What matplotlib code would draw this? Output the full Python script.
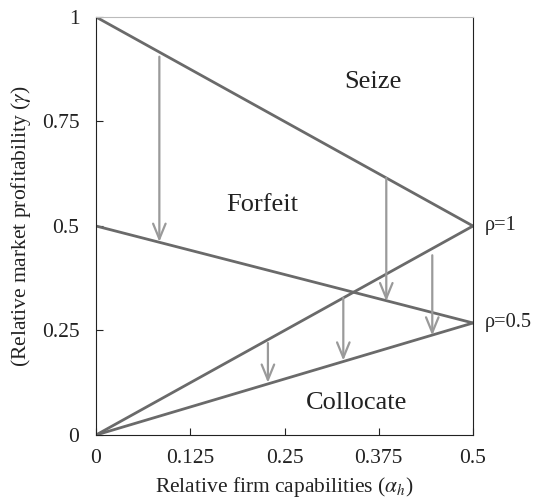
import numpy as np
import matplotlib.pyplot as plt

plt.rcParams['font.family'] = ['Liberation Serif', 'DejaVu Serif']
plt.rcParams['mathtext.fontset'] = 'stix'

# boundary lines: (x0, y0) -> (x1, y1)
line_x = [[0, 0.5], [0, 0.5], [0, 0.5], [0, 0.5]]
line_y = [[1, 0.5], [0.5, 0.268], [0, 0.5], [0, 0.268]]

# arrows: x position, start y, end y
arrow_x = [0.084, 0.385, 0.446, 0.328, 0.228]
arrow_y0 = [0.905, 0.615, 0.43, 0.328, 0.22]
arrow_y1 = [0.462, 0.32, 0.238, 0.178, 0.125]

regions = ['Seize', 'Forfeit', 'Collocate']
region_x = [0.367, 0.22, 0.346]
region_y = [0.845, 0.55, 0.077]

rho_labels = ['ρ=1', 'ρ=0.5']
rho_y = [0.5, 0.268]

xticks = [0, 0.125, 0.25, 0.375, 0.5]
yticks = [0, 0.25, 0.5, 0.75, 1]

fig = plt.figure(figsize=(5.37, 5.03), dpi=100)
ax = fig.add_axes([0.1788, 0.1352, 0.702, 0.831])

for xs, ys in zip(line_x, line_y):
    ax.plot(xs, ys, color='#6a6a6a', lw=2.0, solid_capstyle='round')

for x, y0, y1 in zip(arrow_x, arrow_y0, arrow_y1):
    ax.annotate('', xy=(x, y1), xytext=(x, y0),
                arrowprops=dict(arrowstyle='->,head_length=1.1,head_width=0.45',
                                color='#9a9a9a', lw=1.6, shrinkA=0, shrinkB=0))

for t, x, y in zip(regions, region_x, region_y):
    ax.text(x, y, t, fontsize=19, ha='center', va='center', color='#222222')

for t, y in zip(rho_labels, rho_y):
    ax.text(0.516, y, t, fontsize=14.7, ha='left', va='center', color='#222222')

ax.set_xlim(0, 0.5)
ax.set_ylim(0, 1)
ax.set_xticks(xticks)
ax.set_xticklabels(['0', '0.125', '0.25', '0.375', '0.5'])
ax.set_yticks(yticks)
ax.set_yticklabels(['0', '0.25', '0.5', '0.75', '1'])
ax.tick_params(direction='in', length=5, labelsize=15.5, colors='#222222')
ax.tick_params(axis='x', pad=10)
ax.tick_params(axis='y', pad=12)
ax.spines['top'].set_color('#bbbbbb')
for s in ['left', 'bottom', 'right']:
    ax.spines[s].set_color('#222222')

ax.set_xlabel(r'Relative firm capabilities ($\alpha_h$)', fontsize=15.5, color='#222222', labelpad=5)
ax.set_ylabel(r'(Relative market profitability ($\gamma$)', fontsize=15.5, color='#222222', labelpad=6)

fig.savefig('out.png', dpi=100)
